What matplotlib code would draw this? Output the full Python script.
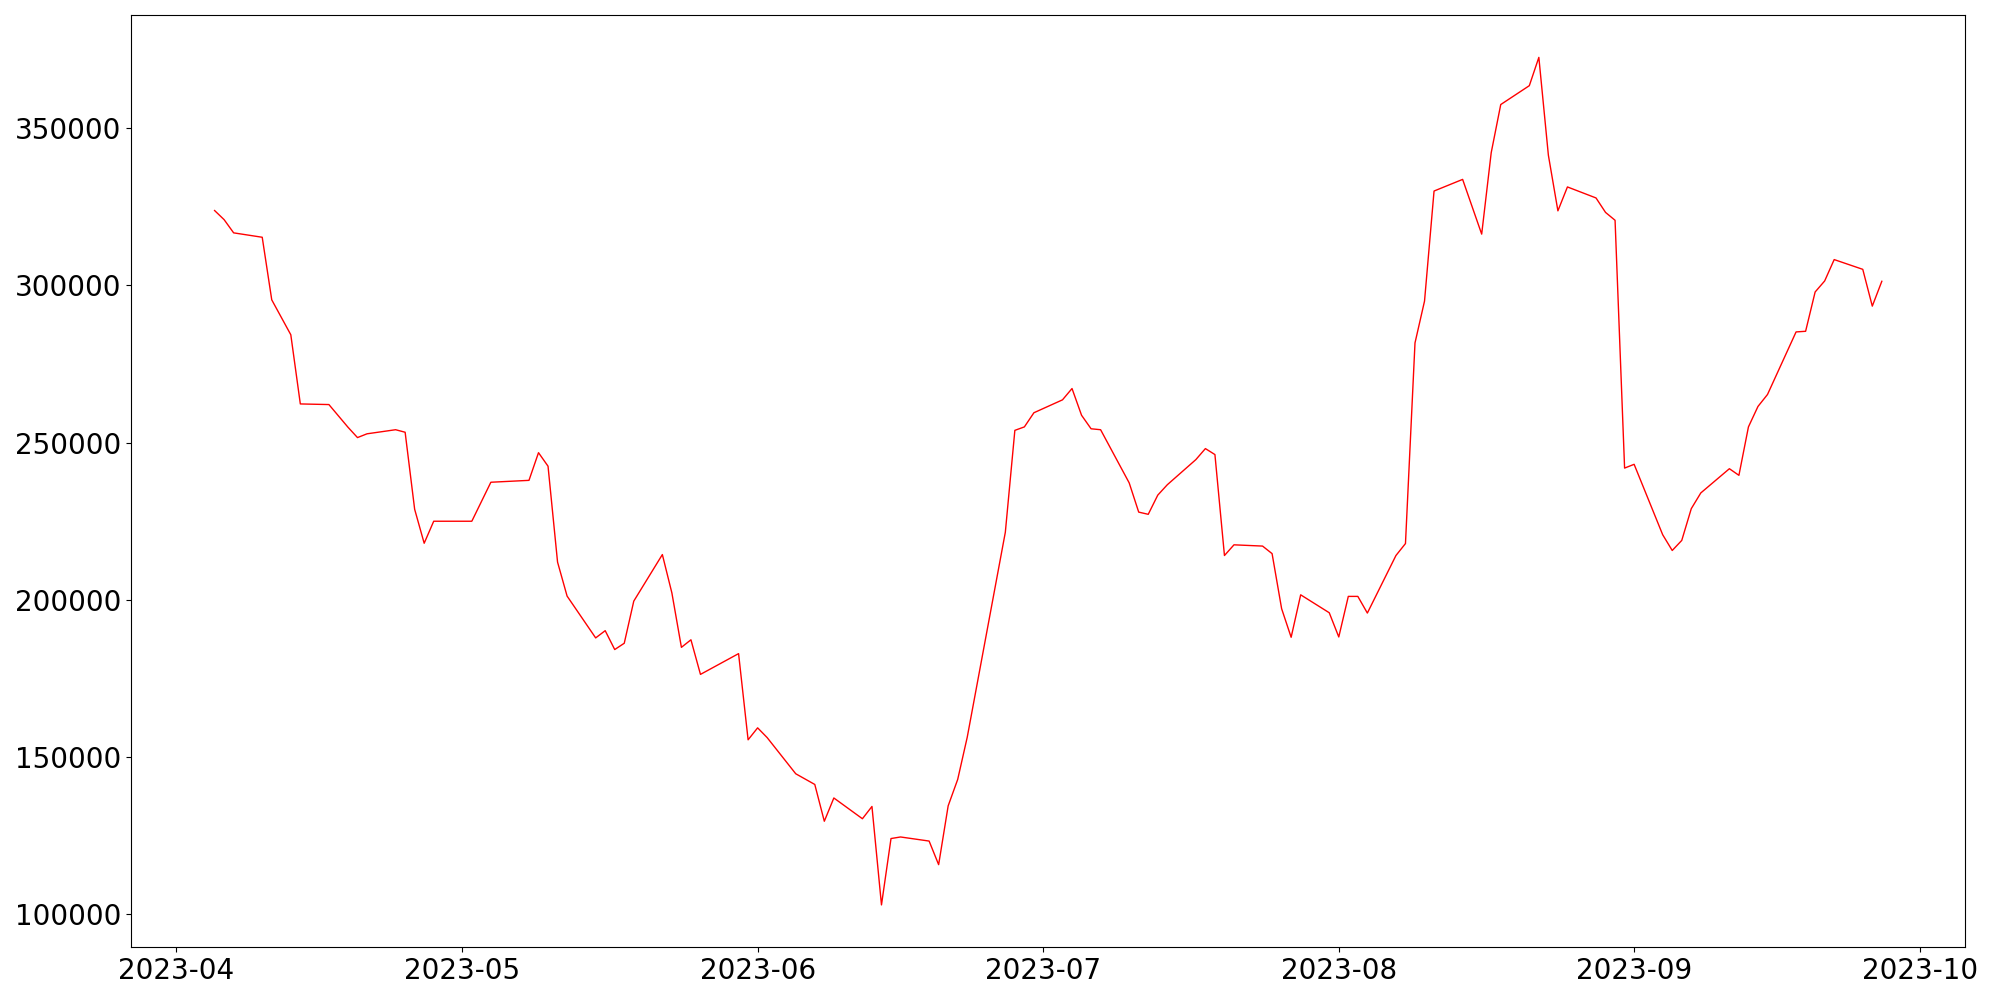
import matplotlib
matplotlib.use("Agg")
import matplotlib.pyplot as plt
import pandas as pd

dates = [
    "2023-04-05", "2023-04-06", "2023-04-07", "2023-04-10", "2023-04-11", "2023-04-13",
    "2023-04-14", "2023-04-17", "2023-04-19", "2023-04-20", "2023-04-21", "2023-04-24",
    "2023-04-25", "2023-04-26", "2023-04-27", "2023-04-28", "2023-05-02", "2023-05-04",
    "2023-05-08", "2023-05-09", "2023-05-10", "2023-05-11", "2023-05-12", "2023-05-15",
    "2023-05-16", "2023-05-17", "2023-05-18", "2023-05-19", "2023-05-22", "2023-05-23",
    "2023-05-24", "2023-05-25", "2023-05-26", "2023-05-30", "2023-05-31", "2023-06-01",
    "2023-06-02", "2023-06-05", "2023-06-07", "2023-06-08", "2023-06-09", "2023-06-12",
    "2023-06-13", "2023-06-14", "2023-06-15", "2023-06-16", "2023-06-19", "2023-06-20",
    "2023-06-21", "2023-06-22", "2023-06-23", "2023-06-27", "2023-06-28", "2023-06-29",
    "2023-06-30", "2023-07-03", "2023-07-04", "2023-07-05", "2023-07-06", "2023-07-07",
    "2023-07-10", "2023-07-11", "2023-07-12", "2023-07-13", "2023-07-14", "2023-07-17",
    "2023-07-18", "2023-07-19", "2023-07-20", "2023-07-21", "2023-07-24", "2023-07-25",
    "2023-07-26", "2023-07-27", "2023-07-28", "2023-07-31", "2023-08-01", "2023-08-02",
    "2023-08-03", "2023-08-04", "2023-08-07", "2023-08-08", "2023-08-09", "2023-08-10",
    "2023-08-11", "2023-08-14", "2023-08-16", "2023-08-17", "2023-08-18", "2023-08-21",
    "2023-08-22", "2023-08-23", "2023-08-24", "2023-08-25", "2023-08-28", "2023-08-29",
    "2023-08-30", "2023-08-31", "2023-09-01", "2023-09-04", "2023-09-05", "2023-09-06",
    "2023-09-07", "2023-09-08", "2023-09-11", "2023-09-12", "2023-09-13", "2023-09-14",
    "2023-09-15", "2023-09-18", "2023-09-19", "2023-09-20", "2023-09-21", "2023-09-22",
    "2023-09-25", "2023-09-26", "2023-09-27",
]

values = [
    323800, 320900, 316700, 315300, 295400, 284300,
    262300, 262100, 254900, 251600, 252800, 254100,
    253300, 228800, 218000, 225000, 225000, 237400,
    238000, 246800, 242500, 212000, 201200, 187900,
    190200, 184200, 186200, 199600, 214400, 202200,
    184900, 187300, 176300, 182900, 155500, 159300,
    156200, 144700, 141300, 129600, 137000, 130400,
    134300, 103000, 124100, 124600, 123300, 115800,
    134500, 142900, 156300, 221500, 253900, 255000,
    259500, 263600, 267200, 258700, 254400, 254100,
    237200, 227900, 227200, 233300, 236600, 244600,
    248100, 246200, 214100, 217500, 217100, 214700,
    197200, 188100, 201600, 195900, 188200, 201100,
    201100, 195800, 214100, 217900, 281700, 295000,
    330000, 333700, 316300, 342200, 357500, 363500,
    372500, 341400, 323700, 331300, 327800, 323200,
    320700, 241900, 243100, 220700, 215700, 218900,
    229000, 234000, 241700, 239600, 255000, 261500,
    265300, 285200, 285400, 297900, 301400, 308200,
    305100, 293400, 301300,
]

x = pd.to_datetime(dates)

fig, ax = plt.subplots(figsize=(20, 10), dpi=100)
ax.plot(x, values, color="red", linewidth=1.0)
ax.tick_params(axis="both", labelsize=20)
fig.tight_layout()
fig.savefig("out.png", dpi=100)
